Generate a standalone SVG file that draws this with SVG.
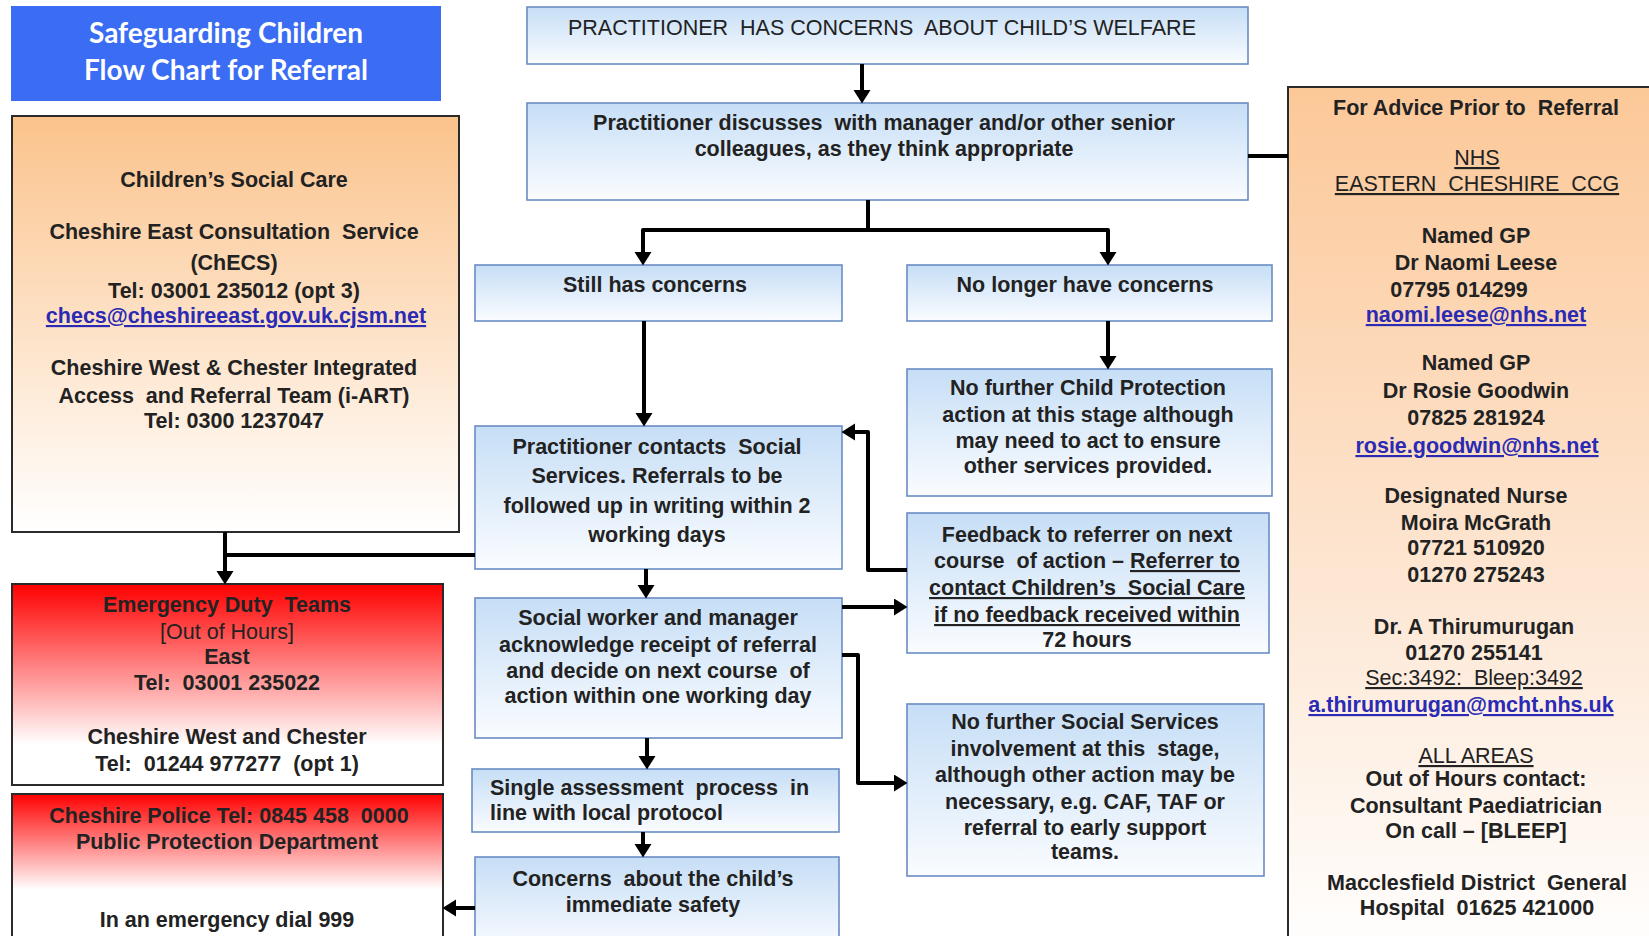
<svg xmlns="http://www.w3.org/2000/svg" width="1649" height="936" viewBox="0 0 1649 936">
<defs>
<linearGradient id="gBlue" x1="0" y1="0" x2="0" y2="1"><stop offset="0" stop-color="#c6def6"/><stop offset="1" stop-color="#fafcff"/></linearGradient>
<linearGradient id="gOrange" x1="0" y1="0" x2="0" y2="1"><stop offset="0" stop-color="#fbc38c"/><stop offset="1" stop-color="#ffffff"/></linearGradient>
<linearGradient id="gOrangeR" x1="0" y1="0" x2="0" y2="1"><stop offset="0" stop-color="#fcc898"/><stop offset="0.6" stop-color="#fde8d6"/><stop offset="1" stop-color="#ffffff"/></linearGradient>
<linearGradient id="gRed" x1="0" y1="0" x2="0" y2="1"><stop offset="0" stop-color="#ff0000"/><stop offset="0.8" stop-color="#ffffff"/></linearGradient>
<linearGradient id="gRed2" x1="0" y1="0" x2="0" y2="1"><stop offset="0" stop-color="#ff0000"/><stop offset="0.6" stop-color="#ffffff"/></linearGradient>
<marker id="ah" markerUnits="userSpaceOnUse" markerWidth="14" markerHeight="18" refX="0" refY="8.5" orient="auto"><path d="M0,0 L13.5,8.5 L0,17 z" fill="#000"/></marker>
<style>
.blue{fill:url(#gBlue);stroke:#6a8cc4;stroke-width:1.6}
.dark{stroke:#2a2a2a;stroke-width:2}
text{font-family:'Liberation Sans',Arial,sans-serif;font-size:21.5px;fill:#222;white-space:pre}
.c{text-anchor:middle}
.b{font-weight:bold}
.u{text-decoration:underline}
.lk{fill:#2a2ab4;text-decoration:underline;font-weight:bold}
.title{font-family:Lato,'Open Sans',sans-serif;font-weight:bold;font-size:28px;fill:#fff;text-anchor:middle}
.con{fill:none;stroke:#000;stroke-width:4;stroke-linejoin:round}
</style>
</defs>
<rect width="1649" height="936" fill="#fff"/>

<g id="title">
<rect x="11" y="6" width="430" height="95" fill="#3a6cf4"/>
<text class="title" x="226" y="43">Safeguarding Children</text>
<text class="title" x="226" y="80">Flow Chart for Referral</text>
</g>

<g id="childrens-social-care">
<rect x="12" y="116" width="447" height="416" fill="url(#gOrange)" class="dark"/>
<text class="c b" x="234" y="187">Children’s Social Care</text>
<text class="c b" x="234" y="239">Cheshire East Consultation  Service</text>
<text class="c b" x="234" y="270">(ChECS)</text>
<text class="c b" x="234" y="298">Tel: 03001 235012 (opt 3)</text>
<text class="c lk" x="236" y="323">checs@cheshireeast.gov.uk.cjsm.net</text>
<text class="c b" x="234" y="375">Cheshire West &amp; Chester Integrated</text>
<text class="c b" x="234" y="403">Access  and Referral Team (i-ART)</text>
<text class="c b" x="234" y="428">Tel: 0300 1237047</text>
</g>

<g id="emergency-duty-teams">
<rect x="12" y="584" width="431" height="201" fill="url(#gRed)" class="dark"/>
<text class="c b" x="227" y="612" fill="#3a0d0d">Emergency Duty  Teams</text>
<text class="c" x="227" y="639">[Out of Hours]</text>
<text class="c b" x="227" y="664">East</text>
<text class="c b" x="227" y="690">Tel:  03001 235022</text>
<text class="c b" x="227" y="744">Cheshire West and Chester</text>
<text class="c b" x="227" y="771">Tel:  01244 977277  (opt 1)</text>
</g>

<g id="police">
<rect x="12" y="794" width="431" height="160" fill="url(#gRed2)" class="dark"/>
<text class="c b" x="229" y="823">Cheshire Police Tel: 0845 458  0000</text>
<text class="c b" x="227" y="849">Public Protection Department</text>
<text class="c b" x="227" y="927">In an emergency dial 999</text>
</g>

<g id="practitioner-concerns">
<rect x="527" y="7" width="721" height="57" class="blue"/>
<text class="c" x="882" y="35">PRACTITIONER  HAS CONCERNS  ABOUT CHILD’S WELFARE</text>
</g>

<g id="practitioner-discusses">
<rect x="527" y="103" width="721" height="97" class="blue"/>
<text class="c b" x="884" y="130">Practitioner discusses  with manager and/or other senior</text>
<text class="c b" x="884" y="156">colleagues, as they think appropriate</text>
</g>

<g id="still-has-concerns">
<rect x="475" y="265" width="367" height="56" class="blue"/>
<text class="c b" x="655" y="292">Still has concerns</text>
</g>

<g id="no-longer-concerns">
<rect x="907" y="265" width="365" height="56" class="blue"/>
<text class="c b" x="1085" y="292">No longer have concerns</text>
</g>

<g id="no-further-cp">
<rect x="907" y="369" width="365" height="127" class="blue"/>
<text class="c b" x="1088" y="395">No further Child Protection</text>
<text class="c b" x="1088" y="422">action at this stage although</text>
<text class="c b" x="1088" y="448">may need to act to ensure</text>
<text class="c b" x="1088" y="473">other services provided.</text>
</g>

<g id="practitioner-contacts">
<rect x="475" y="426" width="367" height="143" class="blue"/>
<text class="c b" x="657" y="454">Practitioner contacts  Social</text>
<text class="c b" x="657" y="483">Services. Referrals to be</text>
<text class="c b" x="657" y="513">followed up in writing within 2</text>
<text class="c b" x="657" y="542">working days</text>
</g>

<g id="feedback">
<rect x="907" y="513" width="362" height="140" class="blue"/>
<text class="c b" x="1087" y="542">Feedback to referrer on next</text>
<text class="c b" x="1087" y="568">course  of action – <tspan class="u">Referrer to</tspan></text>
<text class="c b u" x="1087" y="595">contact Children’s  Social Care</text>
<text class="c b u" x="1087" y="622">if no feedback received within</text>
<text class="c b" x="1087" y="647">72 hours</text>
</g>

<g id="social-worker">
<rect x="475" y="598" width="367" height="140" class="blue"/>
<text class="c b" x="658" y="625">Social worker and manager</text>
<text class="c b" x="658" y="652">acknowledge receipt of referral</text>
<text class="c b" x="658" y="678">and decide on next course  of</text>
<text class="c b" x="658" y="703">action within one working day</text>
</g>

<g id="no-further-ss">
<rect x="907" y="704" width="357" height="172" class="blue"/>
<text class="c b" x="1085" y="729">No further Social Services</text>
<text class="c b" x="1085" y="756">involvement at this  stage,</text>
<text class="c b" x="1085" y="782">although other action may be</text>
<text class="c b" x="1085" y="809">necessary, e.g. CAF, TAF or</text>
<text class="c b" x="1085" y="835">referral to early support</text>
<text class="c b" x="1085" y="859">teams.</text>
</g>

<g id="single-assessment">
<rect x="472" y="769" width="367" height="63" class="blue"/>
<text class="b" x="490" y="795">Single assessment  process  in</text>
<text class="b" x="490" y="820">line with local protocol</text>
</g>

<g id="immediate-safety">
<rect x="475" y="857" width="364" height="95" class="blue"/>
<text class="c b" x="653" y="886">Concerns  about the child’s</text>
<text class="c b" x="653" y="912">immediate safety</text>
</g>

<g id="advice">
<rect x="1288" y="87" width="375" height="870" fill="url(#gOrangeR)" class="dark"/>
<text class="c b" x="1476" y="115">For Advice Prior to  Referral</text>
<text class="c u" x="1477" y="165">NHS</text>
<text class="c u" x="1477" y="191">EASTERN  CHESHIRE  CCG</text>
<text class="c b" x="1476" y="243">Named GP</text>
<text class="c b" x="1476" y="270">Dr Naomi Leese</text>
<text class="c b" x="1459" y="297">07795 014299</text>
<text class="c lk" x="1476" y="322">naomi.leese@nhs.net</text>
<text class="c b" x="1476" y="370">Named GP</text>
<text class="c b" x="1476" y="398">Dr Rosie Goodwin</text>
<text class="c b" x="1476" y="425">07825 281924</text>
<text class="c lk" x="1477" y="453">rosie.goodwin@nhs.net</text>
<text class="c b" x="1476" y="503">Designated Nurse</text>
<text class="c b" x="1476" y="530">Moira McGrath</text>
<text class="c b" x="1476" y="555">07721 510920</text>
<text class="c b" x="1476" y="582">01270 275243</text>
<text class="c b" x="1474" y="634">Dr. A Thirumurugan</text>
<text class="c b" x="1474" y="660">01270 255141</text>
<text class="c u" x="1474" y="685">Sec:3492:  Bleep:3492</text>
<text class="c lk" x="1461" y="712">a.thirumurugan@mcht.nhs.uk</text>
<text class="c u" x="1476" y="763">ALL AREAS</text>
<text class="c b" x="1476" y="786">Out of Hours contact:</text>
<text class="c b" x="1476" y="813">Consultant Paediatrician</text>
<text class="c b" x="1476" y="838">On call – [BLEEP]</text>
<text class="c b" x="1477" y="890">Macclesfield District  General</text>
<text class="c b" x="1477" y="915">Hospital  01625 421000</text>
</g>

<g id="connectors">
<path class="con" d="M862,64 V90" marker-end="url(#ah)"/>
<path class="con" d="M1248,156 H1288"/>
<path class="con" d="M868,200 V230 M643,252 V230 H1108 V252"/>
<path class="con" d="M643,232 V252" marker-end="url(#ah)"/>
<path class="con" d="M1108,232 V252" marker-end="url(#ah)"/>
<path class="con" d="M644,321 V413" marker-end="url(#ah)"/>
<path class="con" d="M1108,321 V356" marker-end="url(#ah)"/>
<path class="con" d="M907,570 H868 V432 H855" marker-end="url(#ah)"/>
<path class="con" d="M646,569 V585" marker-end="url(#ah)"/>
<path class="con" d="M842,607 H894" marker-end="url(#ah)"/>
<path class="con" d="M842,655 H858 V783 H894" marker-end="url(#ah)"/>
<path class="con" d="M647,738 V756" marker-end="url(#ah)"/>
<path class="con" d="M643,832 V844" marker-end="url(#ah)"/>
<path class="con" d="M475,908 H456" marker-end="url(#ah)"/>
<path class="con" d="M225,532 V571" marker-end="url(#ah)"/>
<path class="con" d="M225,555 H475"/>
</g>
</svg>
